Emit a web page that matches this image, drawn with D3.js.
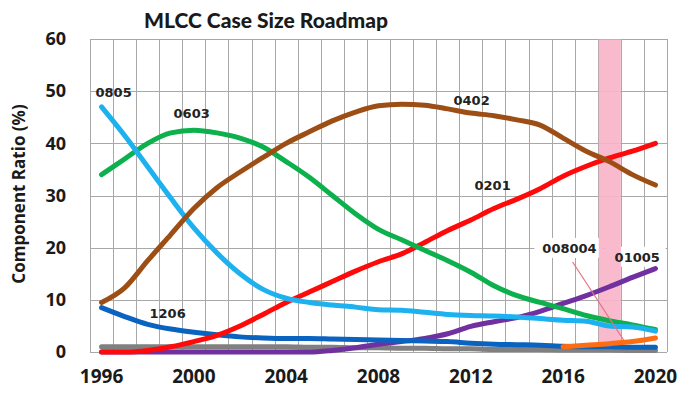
<!DOCTYPE html>
<html lang="en">
<head>
<meta charset="UTF-8">
<title>MLCC Case Size Roadmap</title>
<script src="https://cdnjs.cloudflare.com/ajax/libs/d3/7.8.5/d3.min.js"></script>
<style>
body { margin: 0; background: #fff; }
.grid line { stroke: #a8a8a8; stroke-width: 1px; shape-rendering: crispEdges; }
.series { fill: none; stroke-width: 5px; stroke-linejoin: round; stroke-linecap: round; }
.tick-label { font-family: "Open Sans", sans-serif; font-weight: bold; fill: #1a1a1a; }
.size-label { font-family: "DejaVu Sans", sans-serif; font-weight: bold; font-size: 13px; fill: #222; }
</style>
</head>
<body>
<script>

// case size share by year, %
var years = [1996, 1997, 1998, 1999, 2000, 2001, 2002, 2003, 2004, 2005, 2006, 2007, 2008,
             2009, 2010, 2011, 2012, 2013, 2014, 2015, 2016, 2017, 2018, 2019, 2020];

var s0805 = [47, 41.5, 35.5, 29.5, 23.8, 19, 15, 12, 10.3, 9.5, 9, 8.6, 8.1,
             8, 7.6, 7.2, 7, 6.9, 6.7, 6.4, 6.1, 5.9, 5, 4.8, 4];
var s0603 = [34, 37, 40, 42, 42.5, 42, 41, 39.3, 36.5, 33.5, 30, 26.5, 23.5,
             21.5, 19.5, 17.5, 15.3, 12.7, 10.8, 9.5, 8.3, 7, 6, 5.2, 4.3];
var s0402 = [9.5, 12.3, 17.5, 22.5, 27.5, 31.5, 34.5, 37.3, 40, 42.2, 44.3, 46, 47.2,
             47.5, 47.3, 46.6, 45.8, 45.3, 44.5, 43.5, 41, 38.5, 36.5, 34, 32];
var s0201 = [0, 0, 0.3, 1, 2, 3.2, 5, 7.2, 9.5, 11.5, 13.5, 15.5, 17.3,
             18.8, 21, 23.3, 25.3, 27.5, 29.3, 31.3, 33.7, 35.6, 37.2, 38.5, 40];
var s1206 = [8.5, 6.8, 5.3, 4.4, 3.8, 3.3, 2.9, 2.7, 2.6, 2.6, 2.5, 2.4, 2.3,
             2.2, 2.1, 2, 1.7, 1.5, 1.4, 1.3, 1.1, 1, 1, 0.9, 0.9];
var s01005 = [0, 0, 0, 0, 0, 0, 0, 0, 0, 0, 0.3, 0.8, 1.5,
              2, 2.6, 3.5, 4.9, 5.8, 6.6, 7.8, 9.3, 10.8, 12.5, 14.3, 16];
var s008004 = [null, null, null, null, null, null, null, null, null, null, null, null, null,
               null, null, null, null, null, null, null, 1.0, 1.3, 1.6, 2.0, 2.7];
var sOther = [1, 1, 1, 1, 1, 1, 1, 1, 1, 0.9, 0.9, 0.8, 0.8,
              0.7, 0.7, 0.6, 0.6, 0.5, 0.5, 0.5, 0.4, 0.4, 0.4, 0.3, 0.3];

var yTicks = [0, 10, 20, 30, 40, 50, 60];
var xTicks = [1996, 2000, 2004, 2008, 2012, 2016, 2020];
var highlightYear = 2018;

// draw order, bottom to top
var series = [
    {name: "other", values: sOther},
    {name: "01005", values: s01005},
    {name: "1206", values: s1206},
    {name: "008004", values: s008004},
    {name: "0201", values: s0201},
    {name: "0603", values: s0603},
    {name: "0805", values: s0805},
    {name: "0402", values: s0402}
];

var colors = {
    "other": "#808080",
    "01005": "#7030a0",
    "1206": "#0b63c0",
    "008004": "#ff6d12",
    "0201": "#ff0a0a",
    "0603": "#0cb04c",
    "0805": "#1db2ef",
    "0402": "#9c4e14"
};

// label anchors in data units (year, %)
var labels = [
    {text: "0805", year: 1995.74, value: 48.9},
    {text: "0603", year: 1999.12, value: 44.9},
    {text: "0402", year: 2011.25, value: 47.4},
    {text: "0201", year: 2012.16, value: 31.1},
    {text: "1206", year: 1998.08, value: 6.6},
    {text: "008004", year: 2015.1, value: 19.0, boxed: true},
    {text: "01005", year: 2018.23, value: 17.3, boxed: true}
];
var pointer = [[2016.41, 17.25], [2018.62, 2.3]];

var margin = {top: 39, right: 29, bottom: 43, left: 90},
    width = 696 - margin.left - margin.right,
    height = 395 - margin.top - margin.bottom;

var svg = d3.select("body").append("svg")
    .attr("width", 696)
    .attr("height", 395);

var g = svg.append("g")
    .attr("transform", "translate(" + margin.left + "," + margin.top + ")");

var x = d3.scaleLinear().domain([1995.5, 2020.5]).range([0, width]);
var y = d3.scaleLinear().domain([0, 60]).range([height, 0]);

// grid: a column per year, a row per 10 %
var colEdges = years.map(function(d) { return d - 0.5; }).concat([2020.5]);

var grid = g.append("g").attr("class", "grid");
grid.selectAll("line.v")
    .data(colEdges)
    .enter().append("line")
    .attr("class", "v")
    .attr("x1", function(d) { return Math.round(x(d)) + 0.5; })
    .attr("x2", function(d) { return Math.round(x(d)) + 0.5; })
    .attr("y1", 0)
    .attr("y2", height);
grid.selectAll("line.h")
    .data(yTicks)
    .enter().append("line")
    .attr("class", "h")
    .attr("x1", 0)
    .attr("x2", width)
    .attr("y1", function(d) { return Math.round(y(d)) + 0.5; })
    .attr("y2", function(d) { return Math.round(y(d)) + 0.5; });

// white boxes behind the two small-size labels
labels.filter(function(d) { return d.boxed; }).forEach(function(d) {
    g.append("rect")
        .attr("x", x(d.year) - 8)
        .attr("y", y(d.value) - 15)
        .attr("width", d.text.length * 9 + 14)
        .attr("height", 20)
        .style("fill", "#fff");
});

// highlighted year
g.append("rect")
    .attr("x", x(highlightYear - 0.5) + 1)
    .attr("y", 0.5)
    .attr("width", x(highlightYear + 0.5) - x(highlightYear - 0.5) - 1)
    .attr("height", height - 0.5)
    .style("fill", "#f7b3c6")
    .style("opacity", 0.9);

var line = d3.line()
    .defined(function(d) { return d.v != null; })
    .x(function(d) { return x(d.year); })
    .y(function(d) { return y(d.v); })
    .curve(d3.curveMonotoneX);

g.selectAll("path.series")
    .data(series)
    .enter().append("path")
    .attr("class", "series")
    .attr("stroke", function(d) { return colors[d.name]; })
    .attr("d", function(d) {
        return line(d.values.map(function(v, i) { return {year: years[i], v: v}; }));
    });

// pointer for 008004
g.append("line")
    .attr("x1", x(pointer[0][0]))
    .attr("y1", y(pointer[0][1]))
    .attr("x2", x(pointer[1][0]))
    .attr("y2", y(pointer[1][1]))
    .style("stroke", "#e8707e")
    .style("stroke-width", 1.2);

g.selectAll("text.size-label")
    .data(labels)
    .enter().append("text")
    .attr("class", "size-label")
    .attr("x", function(d) { return x(d.year); })
    .attr("y", function(d) { return y(d.value); })
    .text(function(d) { return d.text; });

// axes labels
g.selectAll("text.ytick")
    .data(yTicks)
    .enter().append("text")
    .attr("class", "tick-label ytick")
    .attr("x", -24)
    .attr("y", function(d) { return y(d); })
    .attr("dy", "0.35em")
    .attr("text-anchor", "end")
    .style("font-size", "18px")
    .text(function(d) { return d; });

g.selectAll("text.xtick")
    .data(xTicks)
    .enter().append("text")
    .attr("class", "tick-label xtick")
    .attr("x", function(d) { return x(d); })
    .attr("y", height + 31)
    .attr("text-anchor", "middle")
    .style("font-size", "19px")
    .text(function(d) { return d; });

svg.append("text")
    .attr("class", "tick-label")
    .attr("transform", "translate(25,194) rotate(-90)")
    .attr("text-anchor", "middle")
    .style("font-size", "17px")
    .text("Component Ratio (%)");

svg.append("text")
    .attr("class", "tick-label")
    .attr("x", 266)
    .attr("y", 28)
    .attr("text-anchor", "middle")
    .style("font-family", "Lato, sans-serif")
    .style("font-weight", 900)
    .style("font-size", "21px")
    .text("MLCC Case Size Roadmap");

</script>
</body>
</html>
